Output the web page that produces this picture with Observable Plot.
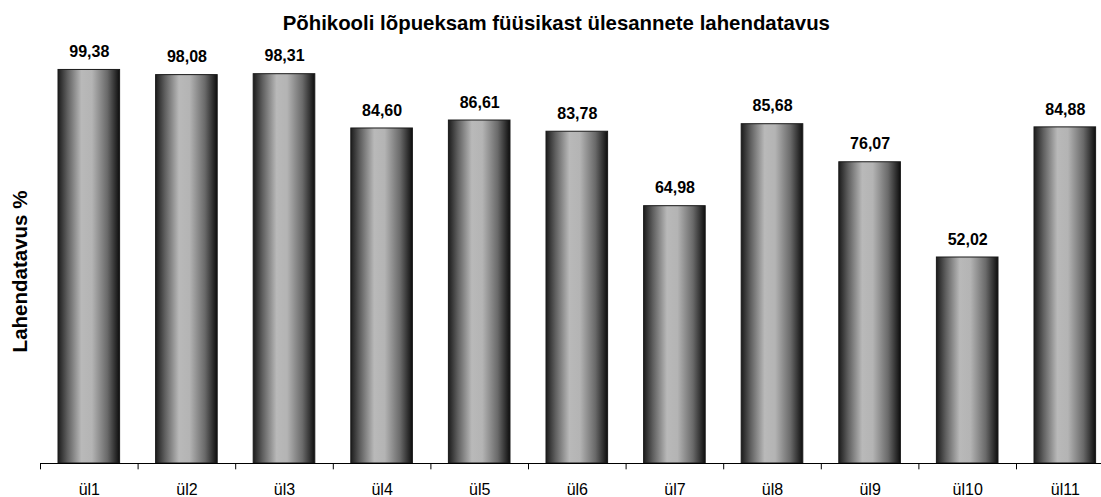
<!DOCTYPE html>
<html>
<head>
<meta charset="utf-8">
<script src="https://cdn.jsdelivr.net/npm/d3@7"></script>
<script src="https://cdn.jsdelivr.net/npm/@observablehq/plot@0.6"></script>
<style>
  html, body { margin: 0; padding: 0; background: #fff; overflow: hidden; }
  #chart { width: 1101px; height: 497px; }
</style>
</head>
<body>
<div id="chart"></div>
<script>
const categories = ["ül1","ül2","ül3","ül4","ül5","ül6","ül7","ül8","ül9","ül10","ül11"];
const values = [99.38, 98.08, 98.31, 84.60, 86.61, 83.78, 64.98, 85.68, 76.07, 52.02, 84.88];
const titleText = "Põhikooli lõpueksam füüsikast ülesannete lahendatavus";
const yLabel = "Lahendatavus %";

const data = categories.map((c, i) => ({cat: c, val: values[i]}));
const W = 1101, H = 497;
const mL = 40, mR = -12.6;
const bw = (W - mR - mL) / categories.length;
const font = "Liberation Sans, Arial, sans-serif";

const chart = Plot.plot({
  width: W,
  height: H,
  marginLeft: mL,
  marginRight: mR,
  marginTop: 67,
  marginBottom: 34,
  style: {fontFamily: font, background: "#fff", color: "#000"},
  x: {domain: categories, padding: 0, round: false, label: null},
  y: {domain: [0, 100], axis: null},
  marks: [
    Plot.barY(data, {x: "cat", y: "val", fill: "url(#barGrad)", stroke: "#1a1a1a", strokeWidth: 1, insetLeft: 18, insetRight: 18}),
    Plot.ruleY([0], {stroke: "#000", strokeWidth: 1}),
    Plot.ruleX(categories, {x: d => d, y1: 0, y2: -1.6, dx: -bw / 2, stroke: "#000", strokeWidth: 1}),
    Plot.axisX({tickSize: 0, tickPadding: 20, fontSize: 16, label: null}),
    Plot.text(data, {x: "cat", y: "val", text: d => d.val.toFixed(2).replace(".", ","), dy: -18, fontSize: 16, fontWeight: "bold", fill: "#000"}),
    Plot.text([titleText], {frameAnchor: "top", lineAnchor: "middle", textAnchor: "middle", dy: -44, dx: -21, fontSize: 20.4, fontWeight: "bold", fill: "#000"}),
    Plot.text([yLabel], {frameAnchor: "left", textAnchor: "middle", lineAnchor: "middle", dx: -20, dy: 6, rotate: -90, fontSize: 20.5, fontWeight: "bold", fill: "#000"})
  ]
});

const svgNS = "http://www.w3.org/2000/svg";
const defs = document.createElementNS(svgNS, "defs");
const grad = document.createElementNS(svgNS, "linearGradient");
grad.setAttribute("id", "barGrad");
grad.setAttribute("x1", "0"); grad.setAttribute("x2", "1");
grad.setAttribute("y1", "0"); grad.setAttribute("y2", "0");
[[0, "#1c1c1c"], [0.15, "#5e5e5e"], [0.38, "#b9b9b9"], [0.55, "#b4b4b4"], [0.8, "#6a6a6a"], [1, "#0e0e0e"]].forEach(([o, c]) => {
  const s = document.createElementNS(svgNS, "stop");
  s.setAttribute("offset", o);
  s.setAttribute("stop-color", c);
  grad.appendChild(s);
});
defs.appendChild(grad);
chart.insertBefore(defs, chart.firstChild);
document.getElementById("chart").appendChild(chart);
</script>
</body>
</html>
